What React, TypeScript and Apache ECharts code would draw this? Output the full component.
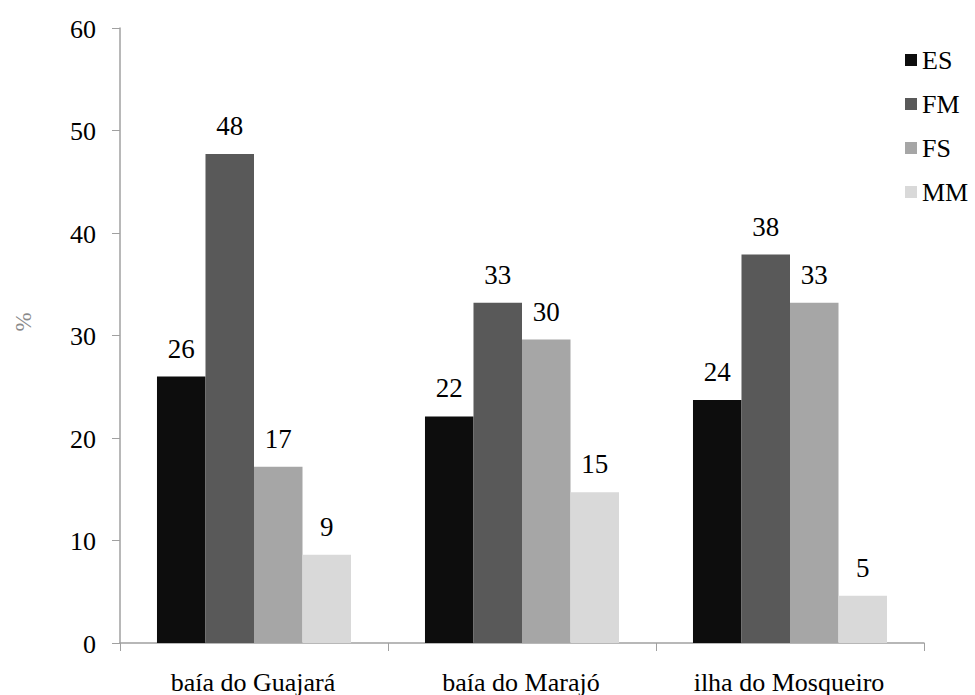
import React, { useEffect, useRef } from "react";
import * as echarts from "echarts";

const categories = ["baía do Guajará", "baía do Marajó", "ilha do Mosqueiro"];
const seriesNames = ["ES", "FM", "FS", "MM"];
const esValues = [26.0, 22.1, 23.7];
const fmValues = [47.7, 33.2, 37.9];
const fsValues = [17.2, 29.6, 33.2];
const mmValues = [8.6, 14.7, 4.6];
const yTicks = [0, 10, 20, 30, 40, 50, 60];
const yAxisName = "%";
const seriesColors = ["#0d0d0d", "#595959", "#a6a6a6", "#d9d9d9"];

const FONT = "Liberation Serif";
const font = (size: number) => `${size}px "${FONT}"`;

export default function App() {
  const ref = useRef<HTMLDivElement>(null);
  useEffect(() => {
    if (!ref.current) return;
    const chart = echarts.init(ref.current, undefined, { renderer: "svg" });
    const values = [esValues, fmValues, fsValues, mmValues];
    chart.setOption({
      animation: false,
      textStyle: { fontFamily: FONT },
      grid: { left: 120, right: 51, top: 28, bottom: 52, containLabel: false, outerBoundsMode: "none" },
      legend: {
        orient: "vertical",
        left: 900,
        top: 42,
        itemWidth: 12,
        itemHeight: 12,
        itemGap: 18,
        icon: "rect",
        textStyle: { fontFamily: FONT, fontSize: 26, color: "#000" },
        data: seriesNames,
      },
      xAxis: {
        type: "category",
        data: categories,
        axisLine: { lineStyle: { color: "#a0a0a0", width: 1.5 } },
        axisTick: { show: true, length: 8, alignWithLabel: false, lineStyle: { color: "#a0a0a0" } },
        axisLabel: { show: false },
      },
      yAxis: {
        type: "value",
        min: yTicks[0],
        max: yTicks[yTicks.length - 1],
        interval: 10,
        axisLine: { show: true, lineStyle: { color: "#a0a0a0", width: 1.5 } },
        axisTick: { show: true, length: 8, lineStyle: { color: "#a0a0a0" } },
        axisLabel: { show: false },
        splitLine: { show: false },
      },
      series: seriesNames.map((name, i) => ({
        name,
        type: "bar",
        data: values[i],
        barGap: "0%",
        barCategoryGap: "27.6%",
        itemStyle: { color: seriesColors[i] },
        label: { show: false },
      })),
    });

    const graphics: any[] = [];
    const txt = (x: number, y: number, text: string, size: number, fill: string, align: string, vAlign: string, rotation = 0) => ({
      type: "text",
      x,
      y,
      rotation,
      silent: true,
      style: {
        text,
        font: font(size),
        fill,
        align,
        verticalAlign: vAlign,
        textAlign: align,
        textVerticalAlign: vAlign,
      },
    });

    // y tick labels from the axis scale
    yTicks.forEach((v) => {
      const py = chart.convertToPixel({ yAxisIndex: 0 }, v) as number;
      graphics.push(txt(96, py + 1, String(v), 26, "#000", "right", "middle"));
    });
    // category labels from the axis scale
    const baseY = chart.convertToPixel({ yAxisIndex: 0 }, 0) as number;
    categories.forEach((c) => {
      const px = chart.convertToPixel({ xAxisIndex: 0 }, c) as number;
      graphics.push(txt(px - 1, baseY + 39, c, 26, "#000", "center", "middle"));
    });
    // axis name
    graphics.push(txt(23, 322, yAxisName, 23, "#8a8a8a", "center", "middle", Math.PI / 2));
    // bar value labels from bar layouts
    const model = (chart as any).getModel();
    seriesNames.forEach((_, i) => {
      const data = model.getSeriesByIndex(i).getData();
      values[i].forEach((v, j) => {
        const lay = data.getItemLayout(j);
        const cx = lay.x + lay.width / 2;
        const top = Math.min(lay.y, lay.y + lay.height);
        graphics.push(txt(cx, top - 28, String(Math.round(v)), 27, "#000", "center", "middle"));
      });
    });
    chart.setOption({ graphic: graphics });
    return () => chart.dispose();
  }, []);
  return <div ref={ref} style={{ width: 975, height: 695, position: "absolute", left: 0, top: 0 }} />;
}
